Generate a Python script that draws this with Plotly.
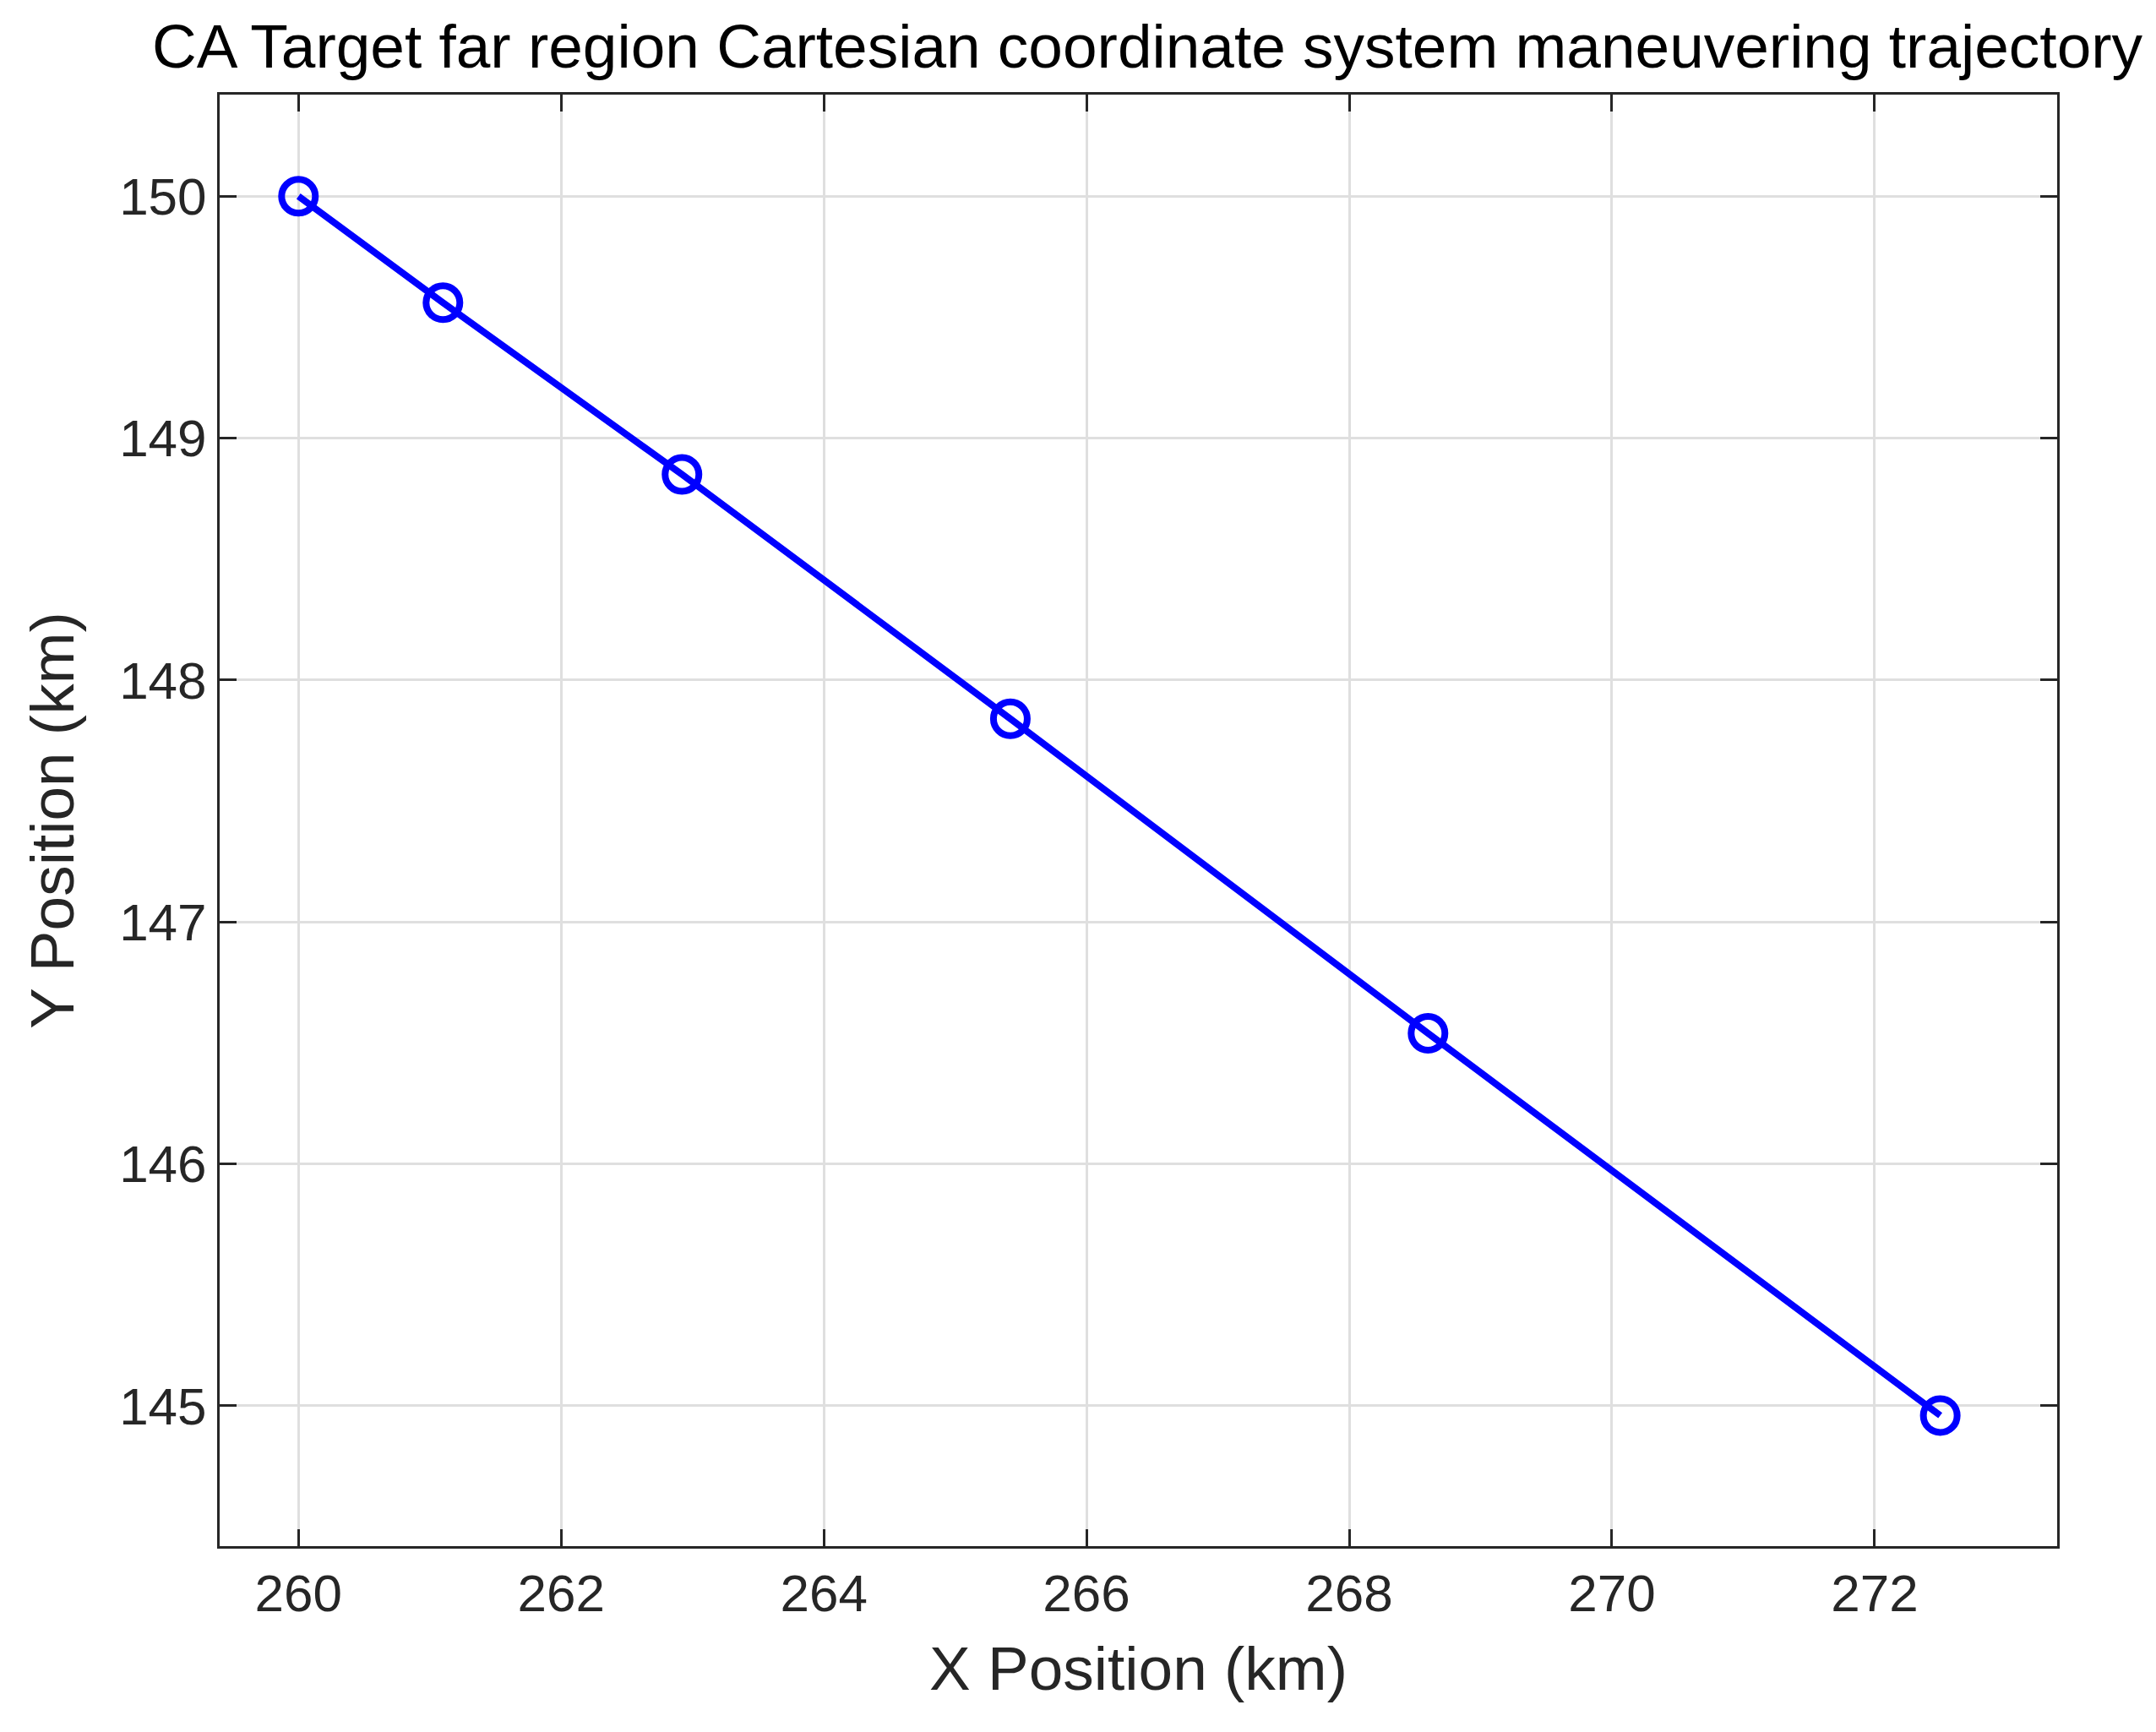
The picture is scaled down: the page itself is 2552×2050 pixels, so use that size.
import plotly.graph_objects as go

x_km = [260.0, 261.1, 262.92, 265.42, 268.6, 272.5]
y_km = [150.0, 149.56, 148.85, 147.84, 146.54, 144.96]
x_ticks = [260, 262, 264, 266, 268, 270, 272]
y_ticks = [145, 146, 147, 148, 149, 150]

fig = go.Figure(
    go.Scatter(
        x=x_km, y=y_km, mode="lines+markers",
        line=dict(color="#0000ff", width=8),
        marker=dict(symbol="circle-open", size=40, color="#0000ff", line=dict(width=8)),
    )
)

axis_common = dict(
    showgrid=True, gridcolor="#dfdfdf", gridwidth=3,
    showline=True, linecolor="#262626", linewidth=3, mirror="ticks",
    ticks="inside", ticklen=20, tickwidth=3, tickcolor="#262626",
    zeroline=False, tickfont=dict(size=62, color="#262626"),
)

fig.update_layout(
    width=2552, height=2050,
    paper_bgcolor="white", plot_bgcolor="white",
    font=dict(family="Liberation Sans, Arial, sans-serif", color="#262626"),
    title=dict(text="CA Target far region Cartesian coordinate system maneuvering trajectory",
               x=0.529, xanchor="center", y=0.99, yanchor="top", font=dict(size=73, color="black")),
    margin=dict(l=252, r=125, t=104, b=228),
    showlegend=False,
    xaxis=dict(axis_common, range=[259.4, 273.39], tickvals=x_ticks,
               title=dict(text="X Position (km)", font=dict(size=73), standoff=30)),
    yaxis=dict(axis_common, range=[144.42, 150.42], tickvals=y_ticks,
               title=dict(text="Y Position (km)", font=dict(size=73), standoff=30)),
)

fig.write_html("out.html")
